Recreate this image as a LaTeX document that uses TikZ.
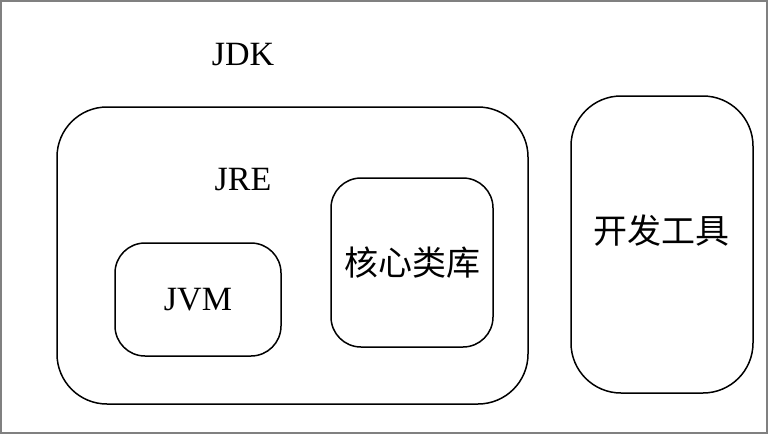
\documentclass[tikz,border=0pt]{standalone}
\usepackage{fontspec}
\setmainfont{Liberation Serif}
\newfontfamily\cjk{Noto Sans CJK SC}
\usepackage{tikz}

\tikzset{
  box/.style = {draw, line width=1.5pt, rounded corners=#1, inner sep=0pt},
  box/.default = 30pt,
  lbl/.style = {font=\fontsize{34}{40}\selectfont, inner sep=0pt}
}

\begin{document}
\begin{tikzpicture}[x=1pt, y=-1pt]
      \node (frame) [draw=gray, line width=2pt, minimum width=766pt, minimum height=432pt, inner sep=0pt] at (384,217) {};
      \node (JDK) [lbl] at (243,55) {JDK};
      \node (JRE) [box=50pt, minimum width=471pt, minimum height=297pt] at (292.5,255.5) {};
      \node (JRElbl) [lbl] at (243,180) {JRE};
      \node (JVM) [box, lbl, minimum width=166pt, minimum height=113pt] at (198,299.5) {JVM};
      \node (core) [box, lbl, minimum width=162pt, minimum height=169pt] at (412,262.5) {\cjk 核心类库};
      \node (tools) [box=50pt, minimum width=182pt, minimum height=297pt] at (662,244.5) {};
      \node (toolslbl) [lbl] at (661,231) {\cjk 开发工具};
\end{tikzpicture}
\end{document}
